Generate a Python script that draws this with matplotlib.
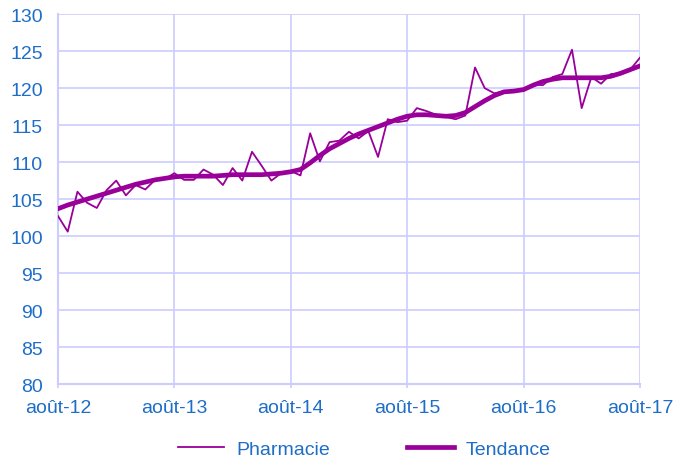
import matplotlib
matplotlib.use("Agg")
import matplotlib.pyplot as plt

plt.rcParams['font.family'] = ['Liberation Sans', 'DejaVu Sans']

# monthly values, août-12 .. août-17
pharmacie = [102.7, 100.6, 106.0, 104.5, 103.8, 106.2, 107.5, 105.5, 106.9, 106.3,
             107.6, 107.7, 108.5, 107.6, 107.6, 109.0, 108.3, 106.9, 109.2, 107.5,
             111.4, 109.5, 107.5, 108.5, 108.8, 108.2, 113.9, 110.1, 112.7, 112.9,
             114.1, 113.2, 114.2, 110.7, 115.8, 115.4, 115.6, 117.3, 116.9, 116.4,
             116.1, 115.8, 116.3, 122.8, 120.0, 119.3, 119.6, 119.6, 119.8, 120.5,
             120.4, 121.5, 121.9, 125.2, 117.3, 121.5, 120.6, 121.9, 122.0, 122.5,
             124.1]
tendance = [103.7, 104.2, 104.6, 105.0, 105.4, 105.8, 106.2, 106.6, 107.0, 107.3,
            107.6, 107.8, 108.0, 108.1, 108.1, 108.1, 108.1, 108.2, 108.3, 108.3,
            108.3, 108.3, 108.4, 108.5, 108.7, 109.0, 109.9, 110.9, 111.8, 112.5,
            113.2, 113.8, 114.3, 114.8, 115.3, 115.8, 116.2, 116.4, 116.4, 116.3,
            116.2, 116.3, 116.7, 117.5, 118.3, 119.0, 119.5, 119.6, 119.8, 120.4,
            120.9, 121.2, 121.4, 121.4, 121.4, 121.4, 121.4, 121.6, 122.0, 122.5,
            123.0]
tick_labels = ["août-12", "août-13", "août-14", "août-15", "août-16", "août-17"]

months = list(range(len(pharmacie)))
purple = "#990099"
grid_c = "#ccccff"
text_c = "#1e6ec8"

fig = plt.figure(figsize=(6.91, 4.60), dpi=100)
ax = fig.add_axes([0.084, 0.163, 0.842, 0.804])

ax.plot(months, pharmacie, color=purple, lw=1.3, label="Pharmacie", zorder=3)
ax.plot(months, tendance, color=purple, lw=3.4, label="Tendance", zorder=4)

ax.set_xlim(0, 60)
ax.set_ylim(80, 130)
ax.set_xticks(range(0, 61, 12))
ax.set_xticklabels(tick_labels)
ax.set_yticks(range(80, 131, 5))

ax.grid(True, color=grid_c, lw=1.2)
ax.set_axisbelow(True)
for s in ax.spines.values():
    s.set_visible(False)
ax.spines['left'].set_visible(True)
ax.spines['bottom'].set_visible(True)
ax.spines['left'].set_color(grid_c)
ax.spines['bottom'].set_color(grid_c)
ax.spines['left'].set_linewidth(1.5)
ax.spines['bottom'].set_linewidth(1.5)
ax.tick_params(axis='both', colors=grid_c, labelcolor=text_c, labelsize=14, width=1.2)
ax.tick_params(axis='y', length=0, pad=11)
ax.tick_params(axis='x', length=3, pad=8)

leg = fig.legend(loc='center', bbox_to_anchor=(0.527, 10 / 460), ncol=2,
                 frameon=False, fontsize=14, handlelength=2.4, handletextpad=0.6,
                 columnspacing=4.0)
for t in leg.get_texts():
    t.set_color(text_c)

fig.savefig("out.png", dpi=100)
